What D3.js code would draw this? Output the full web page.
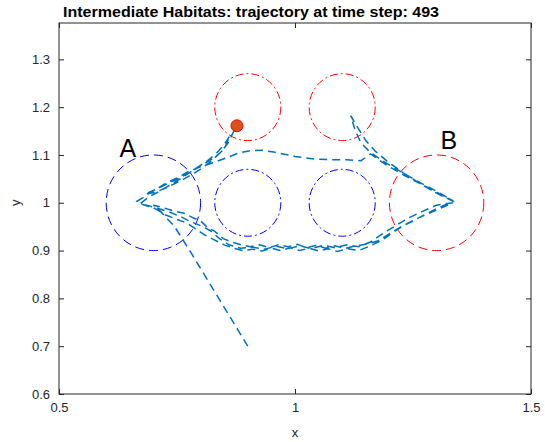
<!DOCTYPE html>
<html>
<head>
<meta charset="utf-8">
<script src="https://cdn.jsdelivr.net/npm/d3@7"></script>
<style>
  body { margin: 0; background: #fff; }
  text { font-family: "Liberation Sans", Arial, sans-serif; }
</style>
</head>
<body>
<svg id="chart"></svg>
<script>
'use strict';

var titleText = "Intermediate Habitats: trajectory at time step: 493";
var xTicks = [0.5, 1, 1.5];
var yTicks = [0.6, 0.7, 0.8, 0.9, 1, 1.1, 1.2, 1.3];

// habitats
var habX = [0.7, 1.3, 0.9, 1.1, 0.9, 1.1];
var habY = [1.0, 1.0, 1.0, 1.0, 1.2, 1.2];
var habR = [0.1, 0.1, 0.07, 0.07, 0.07, 0.07];
var habKind = ["blueBig", "redBig", "blueSmall", "blueSmall", "redSmall", "redSmall"];

var labelText = ["A", "B"];
var labelX = [0.646, 1.326];
var labelY = [1.095, 1.112];

// trajectory
var trajX = [
  // start -> A
  0.900, 0.860, 0.820, 0.780, 0.745, 0.715, 0.700,
  // A -> B along the bottom
  0.720, 0.745, 0.765, 0.785, 0.800, 0.815, 0.830, 0.848, 0.865, 0.885, 0.905, 0.925, 0.945, 0.965, 0.985,
  1.005, 1.025, 1.045, 1.065, 1.085, 1.105, 1.125, 1.150, 1.175, 1.200, 1.225, 1.250, 1.275, 1.300, 1.335,
  // B -> upper red habitat -> B
  1.300, 1.265, 1.230, 1.195, 1.170, 1.150, 1.133, 1.118,
  1.128, 1.140, 1.160, 1.195, 1.230, 1.265, 1.300, 1.335,
  // B -> top arc -> A
  1.300, 1.265, 1.230, 1.195, 1.160, 1.140, 1.110, 1.080, 1.046, 1.020, 1.000, 0.975, 0.955, 0.930, 0.905,
  0.880, 0.855, 0.830, 0.800, 0.775, 0.750, 0.725, 0.700, 0.680, 0.665,
  // A -> B along the bottom again
  0.680, 0.700, 0.725, 0.750, 0.770, 0.790, 0.810, 0.830, 0.850, 0.870, 0.890, 0.910, 0.930, 0.950, 0.970,
  0.990, 1.010, 1.030, 1.050, 1.070, 1.090, 1.110, 1.135, 1.160, 1.185, 1.210, 1.240, 1.270, 1.300, 1.335,
  // B -> A along the bottom
  1.300, 1.270, 1.240, 1.210, 1.185, 1.160, 1.135, 1.110, 1.085, 1.060, 1.035, 1.010, 0.985, 0.960, 0.935,
  0.910, 0.885, 0.860, 0.840, 0.820, 0.800, 0.780, 0.760, 0.735, 0.710, 0.690, 0.672,
  // A -> towards the lower red habitat, back, and up again
  0.690, 0.715, 0.740, 0.765, 0.790, 0.815, 0.835, 0.850, 0.862,
  0.850, 0.830, 0.805, 0.780, 0.755, 0.730, 0.705, 0.682,
  0.705, 0.735, 0.765, 0.795, 0.820, 0.842, 0.858, 0.868, 0.877];
var trajY = [
  0.700, 0.765, 0.830, 0.895, 0.950, 0.982, 0.995,
  0.990, 0.982, 0.978, 0.968, 0.962, 0.948, 0.940, 0.925, 0.918, 0.912, 0.908, 0.912, 0.906, 0.912, 0.908,
  0.913, 0.906, 0.911, 0.905, 0.910, 0.904, 0.909, 0.913, 0.920, 0.935, 0.950, 0.962, 0.975, 0.988, 1.003,
  1.020, 1.040, 1.062, 1.087, 1.108, 1.130, 1.157, 1.182,
  1.150, 1.125, 1.105, 1.082, 1.062, 1.042, 1.024, 1.004,
  1.022, 1.040, 1.058, 1.078, 1.102, 1.088, 1.090, 1.090, 1.091, 1.094, 1.097, 1.102, 1.106, 1.110, 1.109,
  1.104, 1.094, 1.085, 1.075, 1.066, 1.052, 1.040, 1.025, 1.012, 1.003,
  0.995, 0.990, 0.975, 0.965, 0.958, 0.945, 0.932, 0.922, 0.912, 0.905, 0.900, 0.903, 0.899, 0.905, 0.900,
  0.906, 0.900, 0.905, 0.899, 0.904, 0.898, 0.904, 0.900, 0.910, 0.922, 0.940, 0.958, 0.972, 0.985, 1.000,
  0.995, 0.982, 0.968, 0.950, 0.935, 0.918, 0.908, 0.912, 0.906, 0.911, 0.904, 0.910, 0.904, 0.909, 0.903,
  0.907, 0.905, 0.912, 0.925, 0.942, 0.952, 0.960, 0.970, 0.980, 0.988, 0.994, 0.998,
  1.012, 1.025, 1.040, 1.055, 1.072, 1.088, 1.105, 1.122, 1.140,
  1.112, 1.095, 1.080, 1.065, 1.052, 1.040, 1.028, 1.018,
  1.022, 1.035, 1.050, 1.067, 1.085, 1.105, 1.125, 1.145, 1.161];

var W = 545, H = 442;
var margin = {left: 59, right: 14, top: 23, bottom: 48};

var svg = d3.select("#chart")
    .attr("width", W)
    .attr("height", H);

var x = d3.scaleLinear().domain([0.5, 1.5]).range([margin.left, W - margin.right]);
var y = d3.scaleLinear().domain([0.6, 1.376]).range([H - margin.bottom, margin.top]);

var axisCol = "#262626";
var styles = {
    blueBig:   {stroke: "#0000ff", dash: "9,5"},
    redBig:    {stroke: "#ff0000", dash: "9,5"},
    blueSmall: {stroke: "#0000ff", dash: "8,3,2,3"},
    redSmall:  {stroke: "#ff0000", dash: "8,3,2,3"}
};

// habitat circles
svg.append("g").selectAll("ellipse")
    .data(habX)
    .enter().append("ellipse")
    .attr("cx", function(d) { return x(d); })
    .attr("cy", function(d, i) { return y(habY[i]); })
    .attr("rx", function(d, i) { return x(d + habR[i]) - x(d); })
    .attr("ry", function(d, i) { return y(habY[i]) - y(habY[i] + habR[i]); })
    .attr("fill", "none")
    .attr("stroke", function(d, i) { return styles[habKind[i]].stroke; })
    .attr("stroke-dasharray", function(d, i) { return styles[habKind[i]].dash; })
    .attr("stroke-width", 1);

// trajectory
var pts = trajX.map(function(d, i) { return [d, trajY[i]]; });
var line = d3.line()
    .x(function(d) { return x(d[0]); })
    .y(function(d) { return y(d[1]); });

svg.append("path")
    .datum(pts)
    .attr("d", line)
    .attr("fill", "none")
    .attr("stroke", "#0072BD")
    .attr("stroke-width", 1.5)
    .attr("stroke-dasharray", "8,5");

// current position
var last = pts[pts.length - 1];
svg.append("circle")
    .attr("cx", x(last[0]))
    .attr("cy", y(last[1]))
    .attr("r", 6)
    .attr("fill", "#D95319")
    .attr("stroke", "#ff0000")
    .attr("stroke-width", 1);

// A / B labels
svg.append("g").selectAll("text")
    .data(labelText)
    .enter().append("text")
    .attr("x", function(d, i) { return x(labelX[i]); })
    .attr("y", function(d, i) { return y(labelY[i]); })
    .attr("text-anchor", "middle")
    .attr("font-size", 25)
    .attr("fill", "#000")
    .text(function(d) { return d; });

// axes box with inward ticks
var xAxisB = d3.axisBottom(x).tickValues(xTicks).tickSizeInner(-5).tickSizeOuter(0).tickPadding(9)
    .tickFormat(d3.format("~g"));
var xAxisT = d3.axisTop(x).tickValues(xTicks).tickSizeInner(-5).tickSizeOuter(0).tickFormat("");
var yAxisL = d3.axisLeft(y).tickValues(yTicks).tickSizeInner(-5).tickSizeOuter(0).tickPadding(9)
    .tickFormat(d3.format("~g"));
var yAxisR = d3.axisRight(y).tickValues(yTicks).tickSizeInner(-5).tickSizeOuter(0).tickFormat("");

function styleAxis(g) {
    g.select(".domain").remove();
    g.selectAll("line").attr("stroke", axisCol);
    g.selectAll("text").attr("fill", axisCol).attr("font-size", 13)
        .style("font-family", "Liberation Sans, Arial, sans-serif");
}

svg.append("g").attr("transform", "translate(0," + y.range()[0] + ")").call(xAxisB).call(styleAxis);
svg.append("g").attr("transform", "translate(0," + y.range()[1] + ")").call(xAxisT).call(styleAxis);
svg.append("g").attr("transform", "translate(" + x.range()[0] + ",0)").call(yAxisL).call(styleAxis);
svg.append("g").attr("transform", "translate(" + x.range()[1] + ",0)").call(yAxisR).call(styleAxis);

svg.append("rect")
    .attr("x", x.range()[0])
    .attr("y", y.range()[1])
    .attr("width", x.range()[1] - x.range()[0])
    .attr("height", y.range()[0] - y.range()[1])
    .attr("fill", "none")
    .attr("stroke", axisCol)
    .attr("stroke-width", 1);

// title and axis labels
svg.append("text")
    .attr("x", 63)
    .attr("y", 17)
    .attr("font-size", 15.5)
    .attr("font-weight", "bold")
    .attr("fill", "#000")
    .attr("textLength", 376)
    .attr("lengthAdjust", "spacingAndGlyphs")
    .text(titleText);

svg.append("text")
    .attr("x", (x.range()[0] + x.range()[1]) / 2)
    .attr("y", 437)
    .attr("text-anchor", "middle")
    .attr("font-size", 13)
    .attr("fill", axisCol)
    .text("x");

svg.append("text")
    .attr("transform", "translate(20," + y(1) + ") rotate(-90)")
    .attr("text-anchor", "middle")
    .attr("font-size", 13)
    .attr("fill", axisCol)
    .text("y");
</script>
</body>
</html>
